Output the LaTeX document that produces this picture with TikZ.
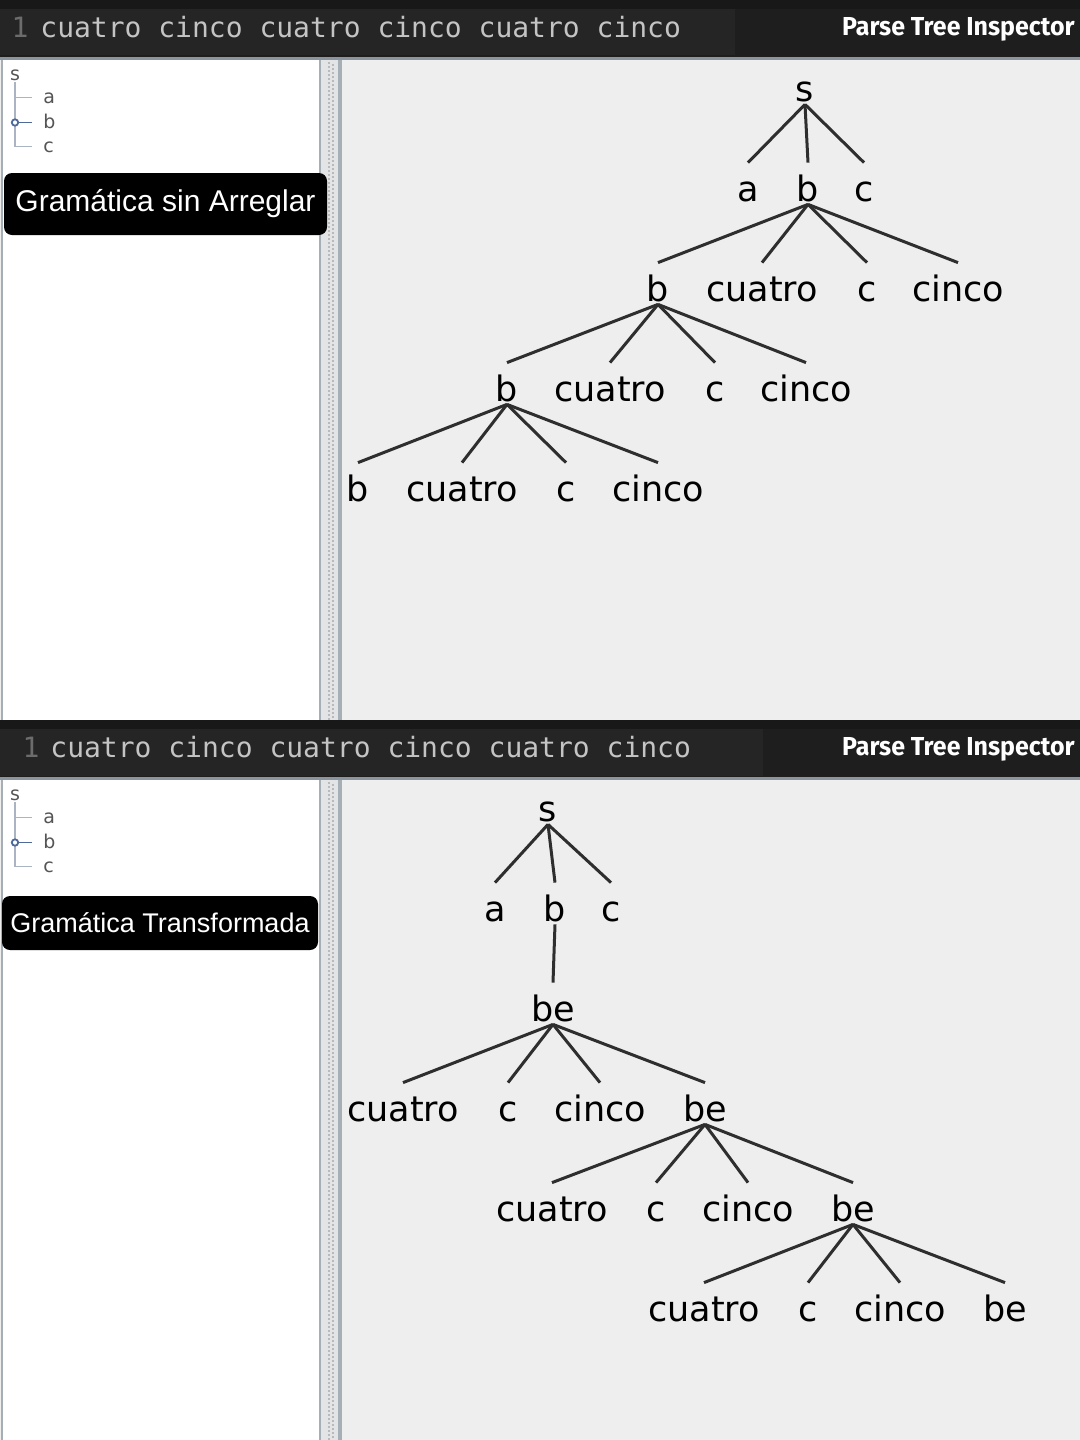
\documentclass[tikz,border=0pt]{standalone}
\usepackage{fontspec}
\setmainfont{Liberation Sans}
\newfontfamily\treefont{DejaVu Sans}
\newfontfamily\codefont{DejaVu Sans Mono}
\newfontfamily\titlefont{Fira Sans}
\usetikzlibrary{positioning}

\definecolor{barbg}{HTML}{1E1E1E}
\definecolor{editorbg}{HTML}{252525}
\definecolor{bartop}{HTML}{181818}
\definecolor{barline}{HTML}{8C959E}
\definecolor{panelbg}{HTML}{EEEEEE}
\definecolor{splitbg}{HTML}{E2E4E6}
\definecolor{paneline}{HTML}{A6AEB6}
\definecolor{codegray}{HTML}{C4C4C4}
\definecolor{linenum}{HTML}{6C6C6C}
\definecolor{edgegray}{HTML}{2E2E2E}
\definecolor{guideblue}{HTML}{AAB4C2}
\definecolor{knobblue}{HTML}{4E6A98}
\definecolor{outlinegray}{HTML}{555555}

\begin{document}
\begin{tikzpicture}[
  x=0.5pt, y=-0.5pt,
  tnode/.style={font=\treefont\fontsize{17.5}{20}\selectfont, anchor=base,
    inner sep=0pt, text height=19pt, text depth=1.5pt},
  edge/.style={draw=edgegray, line width=1.5pt},
  codetext/.style={font=\codefont\fontsize{14}{16}\selectfont, text=codegray,
    anchor=base west, inner sep=0pt},
  linetext/.style={font=\codefont\fontsize{14}{16}\selectfont, text=linenum,
    anchor=base, inner sep=0pt},
  inspector/.style={font=\titlefont\bfseries\fontsize{13}{15}\selectfont, text=white,
    anchor=base east, inner sep=0pt},
  outline/.style={font=\treefont\fontsize{9.5}{11}\selectfont, text=outlinegray,
    inner sep=0pt, text height=5.5pt, text depth=0pt},
  guide/.style={draw=guideblue, line width=0.8pt},
  tag/.style={fill=black, text=white, rounded corners=4pt, inner sep=0pt}
]

\useasboundingbox (0,0) rectangle (1080,1440);

% --- window backgrounds ---
\fill[panelbg] (0,0) rectangle (1080,1440);
\foreach \top in {0,720} {
  \fill[barbg] (0,\top) rectangle (1080,\top+57);
  \fill[bartop] (0,\top) rectangle (1080,\top+9);
  \draw[barline, line width=1.5pt] (0,\top+58) -- (1080,\top+58);
  \fill[white] (2,\top+60) rectangle (320,\top+720);
  \draw[paneline, line width=1.2pt] (2,\top+60) -- (2,\top+720);
  \draw[paneline, line width=1.2pt] (320,\top+60) -- (320,\top+720);
  \fill[splitbg] (321,\top+60) rectangle (340,\top+720);
  \draw[paneline, line width=1.6pt] (340,\top+60) -- (340,\top+720);
  \draw[gray!55, line width=1.2pt, dash pattern=on 1pt off 1pt] (329,\top+62) -- (329,\top+720);
  \draw[gray!55, line width=1.2pt, dash pattern=on 1pt off 1pt, dash phase=1pt] (333,\top+62) -- (333,\top+720);
}
\fill[editorbg] (0,9) rectangle (735,55);
\fill[editorbg] (0,729) rectangle (763,776);

% --- editor bars ---
\node[linetext] (ln1) at (20,38) {1};
\node[codetext] (code1) at (40,38) {cuatro cinco cuatro cinco cuatro cinco};
\node[inspector] (insp1) at (1075,35) {\scalebox{0.96}[1]{Parse Tree Inspector}};

\node[linetext] (ln2) at (31,757) {1};
\node[codetext] (code2) at (50,757) {cuatro cinco cuatro cinco cuatro cinco};
\node[inspector] (insp2) at (1075,755) {\scalebox{0.96}[1]{Parse Tree Inspector}};

% --- outline trees (left panels) ---
\foreach \p/\dy in {o/0, p/720} {
  \node[outline, anchor=base] (\p s) at (15,80+\dy) {s};
  \node[outline, anchor=base west] (\p a) at (43,103+\dy) {a};
  \node[outline, anchor=base west] (\p b) at (43,128+\dy) {b};
  \node[outline, anchor=base west] (\p c) at (43,152+\dy) {c};
  \draw[guide] ([yshift=-1pt]\p s.south) |- ([xshift=-5.5pt]\p c.west);
  \draw[guide] (\p s.south |- \p a.west) -- ([xshift=-5.5pt]\p a.west);
  \draw[knobblue, line width=0.9pt] (\p s.south |- \p b.west) -- ([xshift=-5.5pt]\p b.west);
  \draw[knobblue, line width=0.9pt, fill=white] (\p s.south |- \p b.west) circle (1.6pt);
}

% --- labels ---
\node[tag, minimum width=161.5pt, minimum height=31pt,
  font=\fontsize{15}{17}\selectfont] (tag1) at (165.5,204) {Gramática sin Arreglar};
\node[tag, minimum width=158pt, minimum height=27pt,
  font=\fontsize{13.5}{16}\selectfont] (tag2) at (160,923) {Gramática Transformada};

% --- parse tree, grammar before the fix ---
\node[tnode] (s1) at (805,101) {s};
\node[tnode] (a1) at (748,201) {a};
\node[tnode] (b1) at (808,201) {b};
\node[tnode] (c1) at (864,201) {c};
\node[tnode] (b2) at (658,301) {b};
\node[tnode] (cu2) at (762,301) {cuatro};
\node[tnode] (c2) at (867,301) {c};
\node[tnode] (ci2) at (958,301) {cinco};
\node[tnode] (b3) at (507,401) {b};
\node[tnode] (cu3) at (610,401) {cuatro};
\node[tnode] (c3) at (715,401) {c};
\node[tnode] (ci3) at (806,401) {cinco};
\node[tnode] (b4) at (358,501) {b};
\node[tnode] (cu4) at (462,501) {cuatro};
\node[tnode] (c4) at (566,501) {c};
\node[tnode] (ci4) at (658,501) {cinco};

\foreach \k in {a1,b1,c1} \draw[edge] (s1.south) -- (\k.north);
\foreach \k in {b2,cu2,c2,ci2} \draw[edge] (b1.south) -- (\k.north);
\foreach \k in {b3,cu3,c3,ci3} \draw[edge] (b2.south) -- (\k.north);
\foreach \k in {b4,cu4,c4,ci4} \draw[edge] (b3.south) -- (\k.north);

% --- parse tree, transformed grammar ---
\node[tnode] (ts) at (548,821) {s};
\node[tnode] (ta) at (495,921) {a};
\node[tnode] (tb) at (555,921) {b};
\node[tnode] (tc) at (611,921) {c};
\node[tnode] (tbe1) at (553,1021) {be};
\node[tnode] (tcu2) at (403,1121) {cuatro};
\node[tnode] (tc2) at (508,1121) {c};
\node[tnode] (tci2) at (600,1121) {cinco};
\node[tnode] (tbe2) at (705,1121) {be};
\node[tnode] (tcu3) at (552,1221) {cuatro};
\node[tnode] (tc3) at (656,1221) {c};
\node[tnode] (tci3) at (748,1221) {cinco};
\node[tnode] (tbe3) at (853,1221) {be};
\node[tnode] (tcu4) at (704,1321) {cuatro};
\node[tnode] (tc4) at (808,1321) {c};
\node[tnode] (tci4) at (900,1321) {cinco};
\node[tnode] (tbe4) at (1005,1321) {be};

\foreach \k in {ta,tb,tc} \draw[edge] (ts.south) -- (\k.north);
\draw[edge] (tb.south) -- (tbe1.north);
\foreach \k in {tcu2,tc2,tci2,tbe2} \draw[edge] (tbe1.south) -- (\k.north);
\foreach \k in {tcu3,tc3,tci3,tbe3} \draw[edge] (tbe2.south) -- (\k.north);
\foreach \k in {tcu4,tc4,tci4,tbe4} \draw[edge] (tbe3.south) -- (\k.north);

\end{tikzpicture}
\end{document}
